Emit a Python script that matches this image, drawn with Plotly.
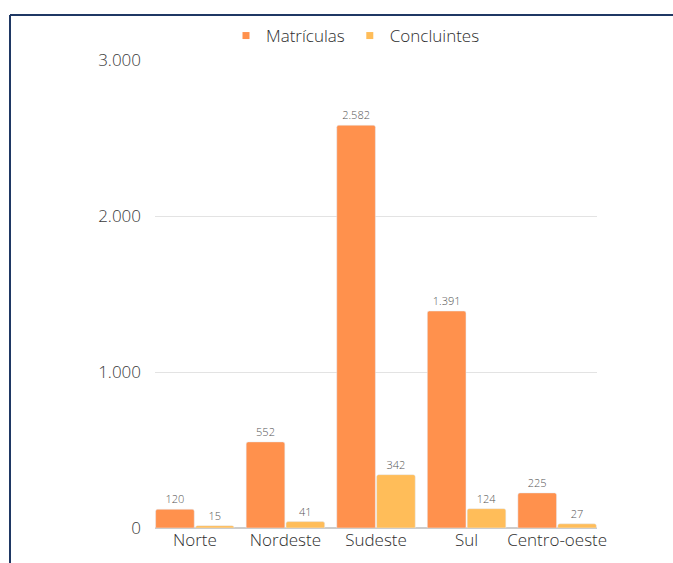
import plotly.graph_objects as go

regioes = ["Norte", "Nordeste", "Sudeste", "Sul", "Centro-oeste"]
matriculas = [120, 552, 2582, 1391, 225]
concluintes = [15, 41, 342, 124, 27]
y_ticks = [0, 1000, 2000, 3000]
series_names = ["Matrículas", "Concluintes"]
series_colors = ["#FF914D", "#FFBD59"]

def fmt(v):
    return f"{v:,}".replace(",", ".")

W, H = 673, 563
L, R, T, B = 155, 76, 60, 35
GAP = 0.12

fig = go.Figure()
for name, vals, col in zip(series_names, [matriculas, concluintes], series_colors):
    fig.add_trace(go.Bar(
        x=regioes, y=vals, name=name, showlegend=False,
        marker=dict(color=col, cornerradius=2),
        text=[fmt(v) for v in vals], textposition="outside",
        textfont=dict(size=11, color="#555555", family="Open Sans", weight=300),
        cliponaxis=False,
    ))
for name, col in zip(series_names, series_colors):
    fig.add_trace(go.Scatter(
        x=[None], y=[None], mode="markers", name=name,
        marker=dict(symbol="square", size=7, color=col),
    ))

pw = W - L - R
ph = H - T - B
def px_x(p):
    return (p - L) / pw
def px_y(p):
    return (H - B - p) / ph

TXT = "#2e2e2e"
fig.update_layout(
    width=W, height=H,
    margin=dict(l=L, r=R, t=T, b=B),
    paper_bgcolor="white", plot_bgcolor="white",
    font=dict(family="Open Sans", color=TXT, weight=300),
    separators=",.",
    barmode="group", bargap=GAP, bargroupgap=0.03,
    legend=dict(orientation="h", x=px_x(226), xanchor="left", y=px_y(36), yanchor="middle",
                font=dict(size=17, color=TXT, family="Open Sans", weight=300),
                itemwidth=30),
    xaxis=dict(showgrid=False, tickfont=dict(size=17, color=TXT, family="Open Sans", weight=300),
               showline=False, ticks="",
               range=[-0.5 + GAP / 2, len(regioes) - 0.5 - GAP / 2]),
    yaxis=dict(range=[0, 3000], tickvals=y_ticks, tickformat=",d",
               tickfont=dict(size=17, color="#3a3a3a", family="Open Sans", weight=300),
               gridcolor="#e3e3e3", gridwidth=1, zeroline=True,
               zerolinecolor="#cccccc", zerolinewidth=2, ticklabelstandoff=13),
    shapes=[
        dict(type="line", xref="paper", yref="paper",
             x0=px_x(10), x1=px_x(675), y0=px_y(15), y1=px_y(15),
             line=dict(color="#1F3864", width=2)),
        dict(type="line", xref="paper", yref="paper",
             x0=px_x(10), x1=px_x(10), y0=px_y(15), y1=px_y(570),
             line=dict(color="#1F3864", width=2)),
    ],
)

fig.write_html("out.html")
